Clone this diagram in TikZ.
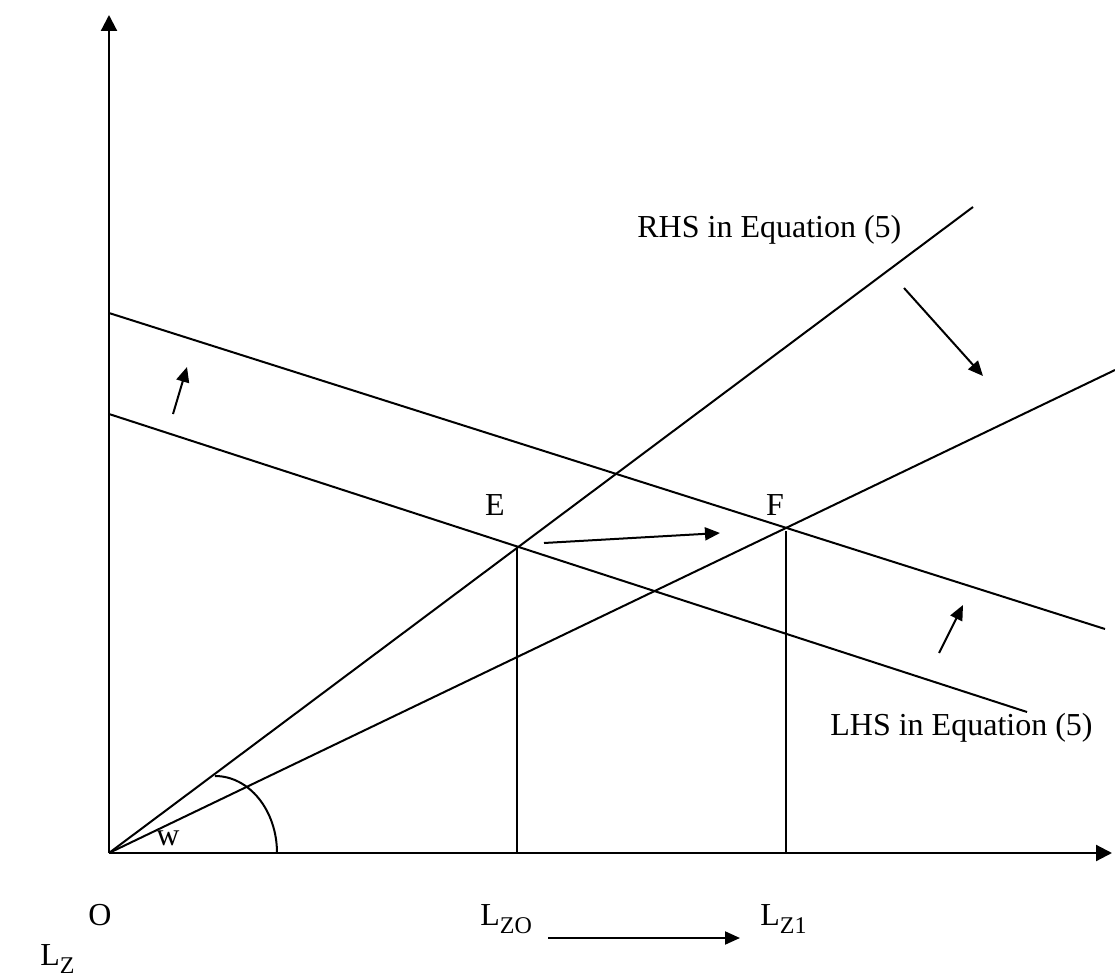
\documentclass[tikz,border=0pt]{standalone}
\usepackage{fontspec}
\setmainfont{Liberation Serif}
\usetikzlibrary{arrows.meta}
\newcommand\mysub[1]{\raisebox{-0.25em}{\fontsize{12}{14}\selectfont #1}}
\tikzset{
  axisline/.style={line width=1.1pt,-{Triangle[length=8pt,width=8pt]}},
  curve/.style={line width=1pt},
  shiftarrow/.style={line width=1pt,-{Triangle[length=7.5pt,width=6.5pt]}},
  lbl/.style={inner sep=0pt,anchor=base,font=\fontsize{16}{19}\selectfont},
}
\begin{document}
\begin{tikzpicture}[x=0.5pt,y=-0.5pt]
\useasboundingbox (0,0) rectangle (1115,979);
% key points
\coordinate (O) at (109,853);
\coordinate (ytop) at (109,15);
\coordinate (xend) at (1112,853);
\coordinate (E) at (517,547);
\coordinate (F) at (786,528);
\coordinate (Ebase) at (517,853);
\coordinate (Fbase) at (786,853);
\coordinate (Ftop) at (786,531);
\coordinate (rhsA) at (973,207);
\coordinate (rhsB) at (1115,370);
\coordinate (lhsAl) at (109,414);
\coordinate (lhsAr) at (1027,712);
\coordinate (lhsBl) at (109,313);
\coordinate (lhsBr) at (1105,629);
% axes
\draw[axisline] (O) -- (ytop);
\draw[axisline] (O) -- (xend);
% curves
\draw[curve] (O) -- (rhsA);
\draw[curve] (O) -- (rhsB);
\draw[curve] (lhsAl) -- (lhsAr);
\draw[curve] (lhsBl) -- (lhsBr);
\draw[curve] (E) -- (Ebase);
\draw[curve] (Ftop) -- (Fbase);
% angle arc
\coordinate (arcS) at (215,776);
\draw[curve] (arcS) arc[start angle=90,end angle=0,x radius=62,y radius=-77];
% shift arrows
\coordinate (a1s) at (173,414); \coordinate (a1e) at (187,367);
\coordinate (a2s) at (904,288); \coordinate (a2e) at (983,376);
\coordinate (a3s) at (544,543); \coordinate (a3e) at (720,533);
\coordinate (a4s) at (939,653); \coordinate (a4e) at (963,605);
\draw[shiftarrow] (a1s) -- (a1e);
\draw[shiftarrow] (a2s) -- (a2e);
\draw[shiftarrow] (a3s) -- (a3e);
\draw[shiftarrow] (a4s) -- (a4e);
% labels
\node[lbl,anchor=base west] (rhs) at (637,238) {RHS in Equation (5)};
\node[lbl,anchor=base west] (lhs) at (830,735) {LHS in Equation (5)};
\node[lbl] (Elbl) at (495,515) {E};
\node[lbl] (Flbl) at (775,515) {F};
\node[lbl] (wlbl) at (168,845) {w};
\node[lbl] (Olbl) at (100,925) {O};
\node[lbl,anchor=base west] (Lz0) at (480,925) {L\mysub{ZO}};
\node[lbl,anchor=base west] (Lz1) at (760,925) {L\mysub{Z1}};
\node[lbl,anchor=base west] (Lz) at (40,965) {L\mysub{Z}};
\coordinate (b1) at (548,938);
\coordinate (b2) at (740,938);
\draw[shiftarrow] (b1) -- (b2);
\end{tikzpicture}
\end{document}
